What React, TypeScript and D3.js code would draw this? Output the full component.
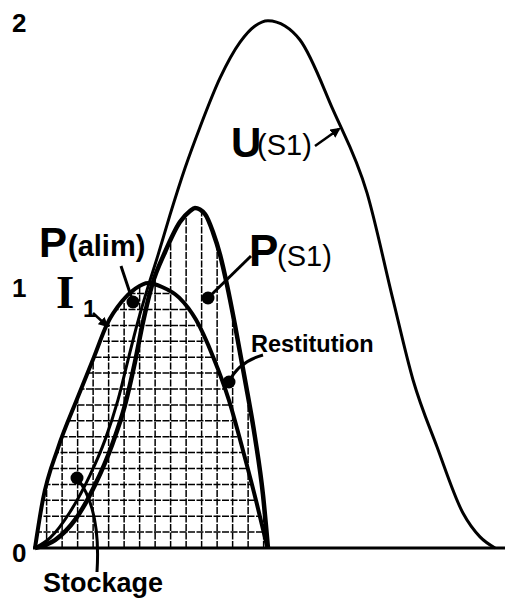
import * as d3 from "d3";

// curve I1 (t, value)
const tI1 = [0, 0.5, 1.5, 2.7, 3.8, 4.65, 5.6, 6.5, 7.3, 8.2, 9.3, 10.4, 11.5, 12.5, 13.5, 14.3, 15.0];
const vI1 = [0, 0.18, 0.38, 0.56, 0.72, 0.845, 0.93, 0.98, 1.0, 0.985, 0.945, 0.86, 0.72, 0.56, 0.35, 0.17, 0];

// curve P(S1)
const tPS1 = [0, 1.29, 2.58, 3.87, 4.97, 5.81, 6.45, 6.97, 7.55, 8.39, 9.35, 10.0, 10.32, 10.97, 11.48, 11.94, 12.39, 12.9, 13.55, 14.19, 14.71, 15.03];
const vPS1 = [0, 0.03, 0.106, 0.238, 0.389, 0.54, 0.702, 0.853, 0.992, 1.117, 1.23, 1.272, 1.283, 1.26, 1.192, 1.106, 0.992, 0.842, 0.634, 0.419, 0.2, 0];

// curve U(S1)
const tU = [0, 0.97, 2.26, 3.55, 4.52, 5.35, 6.0, 6.58, 7.23, 7.94, 8.71, 9.68, 10.65, 11.94, 13.23, 14.19, 15.03, 16.13, 17.1, 19.23, 21.42, 23.1, 24.39, 25.94, 27.61, 28.71, 29.68];
const vU = [0, 0.038, 0.136, 0.275, 0.408, 0.558, 0.709, 0.842, 0.974, 1.106, 1.257, 1.434, 1.589, 1.774, 1.909, 1.97, 1.99, 1.97, 1.917, 1.653, 1.34, 0.936, 0.634, 0.381, 0.132, 0.042, 0];

const yTicks = [0, 1, 2];

const W = 505;
const H = 598;
const sans = "'Liberation Sans', Arial, sans-serif";
const serif = "'Liberation Serif', 'Times New Roman', serif";

const x = d3.scaleLinear().domain([0, 30]).range([35, 500]);
const y = d3.scaleLinear().domain([0, 2]).range([548, 18]);

const mkLine = (ts: number[], vs: number[]) =>
  d3
    .line<number>()
    .x((d) => x(d))
    .y((d, i) => y(vs[i]))
    .curve(d3.curveMonotoneX)(ts) as string;

const mkArea = (ts: number[], vs: number[]) =>
  d3
    .area<number>()
    .x((d) => x(d))
    .y0(y(0))
    .y1((d, i) => y(vs[i]))
    .curve(d3.curveMonotoneX)(ts) as string;

// hatching positions (pattern, not data)
const hatchT = d3.range(0.75, 15, 1);
const hatchV = d3.range(0.06, 0.999, 0.06);

export default function App() {
  return (
    <svg
      width={W}
      height={H}
      viewBox={`0 0 ${W} ${H}`}
      style={{ position: "absolute", left: 0, top: 0, background: "#fff" }}
    >
      <defs>
        <clipPath id="clipI1">
          <path d={mkArea(tI1, vI1)} />
        </clipPath>
        <clipPath id="clipBoth">
          <path d={mkArea(tI1, vI1)} />
          <path d={mkArea(tPS1, vPS1)} />
        </clipPath>
        <marker
          id="arr"
          viewBox="0 0 10 10"
          refX="8"
          refY="5"
          markerWidth="4"
          markerHeight="4"
          orient="auto"
        >
          <path d="M0,0L10,5L0,10z" fill="#000" />
        </marker>
      </defs>

      {/* hatching */}
      <g clipPath="url(#clipI1)" stroke="#000" strokeWidth={1.5} strokeDasharray="7 1.5">
        {hatchV.map((v) => (
          <line key={v} x1={x(0)} x2={x(16)} y1={y(v)} y2={y(v)} />
        ))}
      </g>
      <g clipPath="url(#clipBoth)" stroke="#000" strokeWidth={1.5} strokeDasharray="7 1.5">
        {hatchT.map((t) => (
          <line key={t} x1={x(t)} x2={x(t)} y1={y(0)} y2={y(1.4)} />
        ))}
      </g>

      {/* baseline */}
      <line x1={x(0) - 2} x2={W} y1={y(0)} y2={y(0)} stroke="#000" strokeWidth={3} />

      {/* curves */}
      <path d={mkLine(tU, vU)} fill="none" stroke="#000" strokeWidth={3} />
      <path d={mkLine(tI1, vI1)} fill="none" stroke="#000" strokeWidth={4} />
      <path d={mkLine(tPS1, vPS1)} fill="none" stroke="#000" strokeWidth={4.5} />

      {/* y tick labels */}
      {yTicks.map((v) => (
        <text
          key={v}
          x={12}
          y={y(v) + 14}
          fontFamily={sans}
          fontWeight="bold"
          fontSize={26}
        >
          {v}
        </text>
      ))}

      {/* U(S1) */}
      <text x={231} y={157} fontFamily={sans} fontWeight="bold" fontSize={42}>
        U
      </text>
      <text x={257} y={155} fontFamily={sans} fontSize={29}>
        (S1)
      </text>
      <line x1={315} y1={146} x2={339} y2={129} stroke="#000" strokeWidth={2.5} markerEnd="url(#arr)" />

      {/* P(S1) */}
      <text x={249} y={266} fontFamily={sans} fontWeight="bold" fontSize={44}>
        P
      </text>
      <text x={277} y={266} fontFamily={sans} fontSize={29}>
        (S1)
      </text>
      <line x1={251} y1={256} x2={208} y2={298} stroke="#000" strokeWidth={3} />
      <circle cx={208} cy={298} r={6.5} fill="#000" />

      {/* P(alim) */}
      <text x={39} y={257} fontFamily={sans} fontWeight="bold" fontSize={42}>
        P
      </text>
      <text x={68} y={256} fontFamily={sans} fontWeight="bold" fontSize={29}>
        (alim)
      </text>
      <line x1={121} y1={266} x2={133} y2={302} stroke="#000" strokeWidth={3} />
      <circle cx={133} cy={302} r={6.5} fill="#000" />

      {/* I1 */}
      <text x={56} y={308} fontFamily={serif} fontWeight="bold" fontSize={47}>
        I
      </text>
      <text x={83} y={317} fontFamily={sans} fontWeight="bold" fontSize={24}>
        1
      </text>
      <line x1={93} y1={313} x2={107} y2={326} stroke="#000" strokeWidth={2.5} markerEnd="url(#arr)" />

      {/* Restitution */}
      <text x={251} y={352} fontFamily={sans} fontWeight="bold" fontSize={23.5}>
        Restitution
      </text>
      <path d="M229,382 Q238,362 263,355" fill="none" stroke="#000" strokeWidth={3} />
      <circle cx={229} cy={382} r={6.5} fill="#000" />

      {/* Stockage */}
      <text x={43} y={592} fontFamily={sans} fontWeight="bold" fontSize={27}>
        Stockage
      </text>
      <path d="M77,478 Q101,508 97,572" fill="none" stroke="#000" strokeWidth={3} />
      <circle cx={77} cy={478} r={6.5} fill="#000" />
    </svg>
  );
}
